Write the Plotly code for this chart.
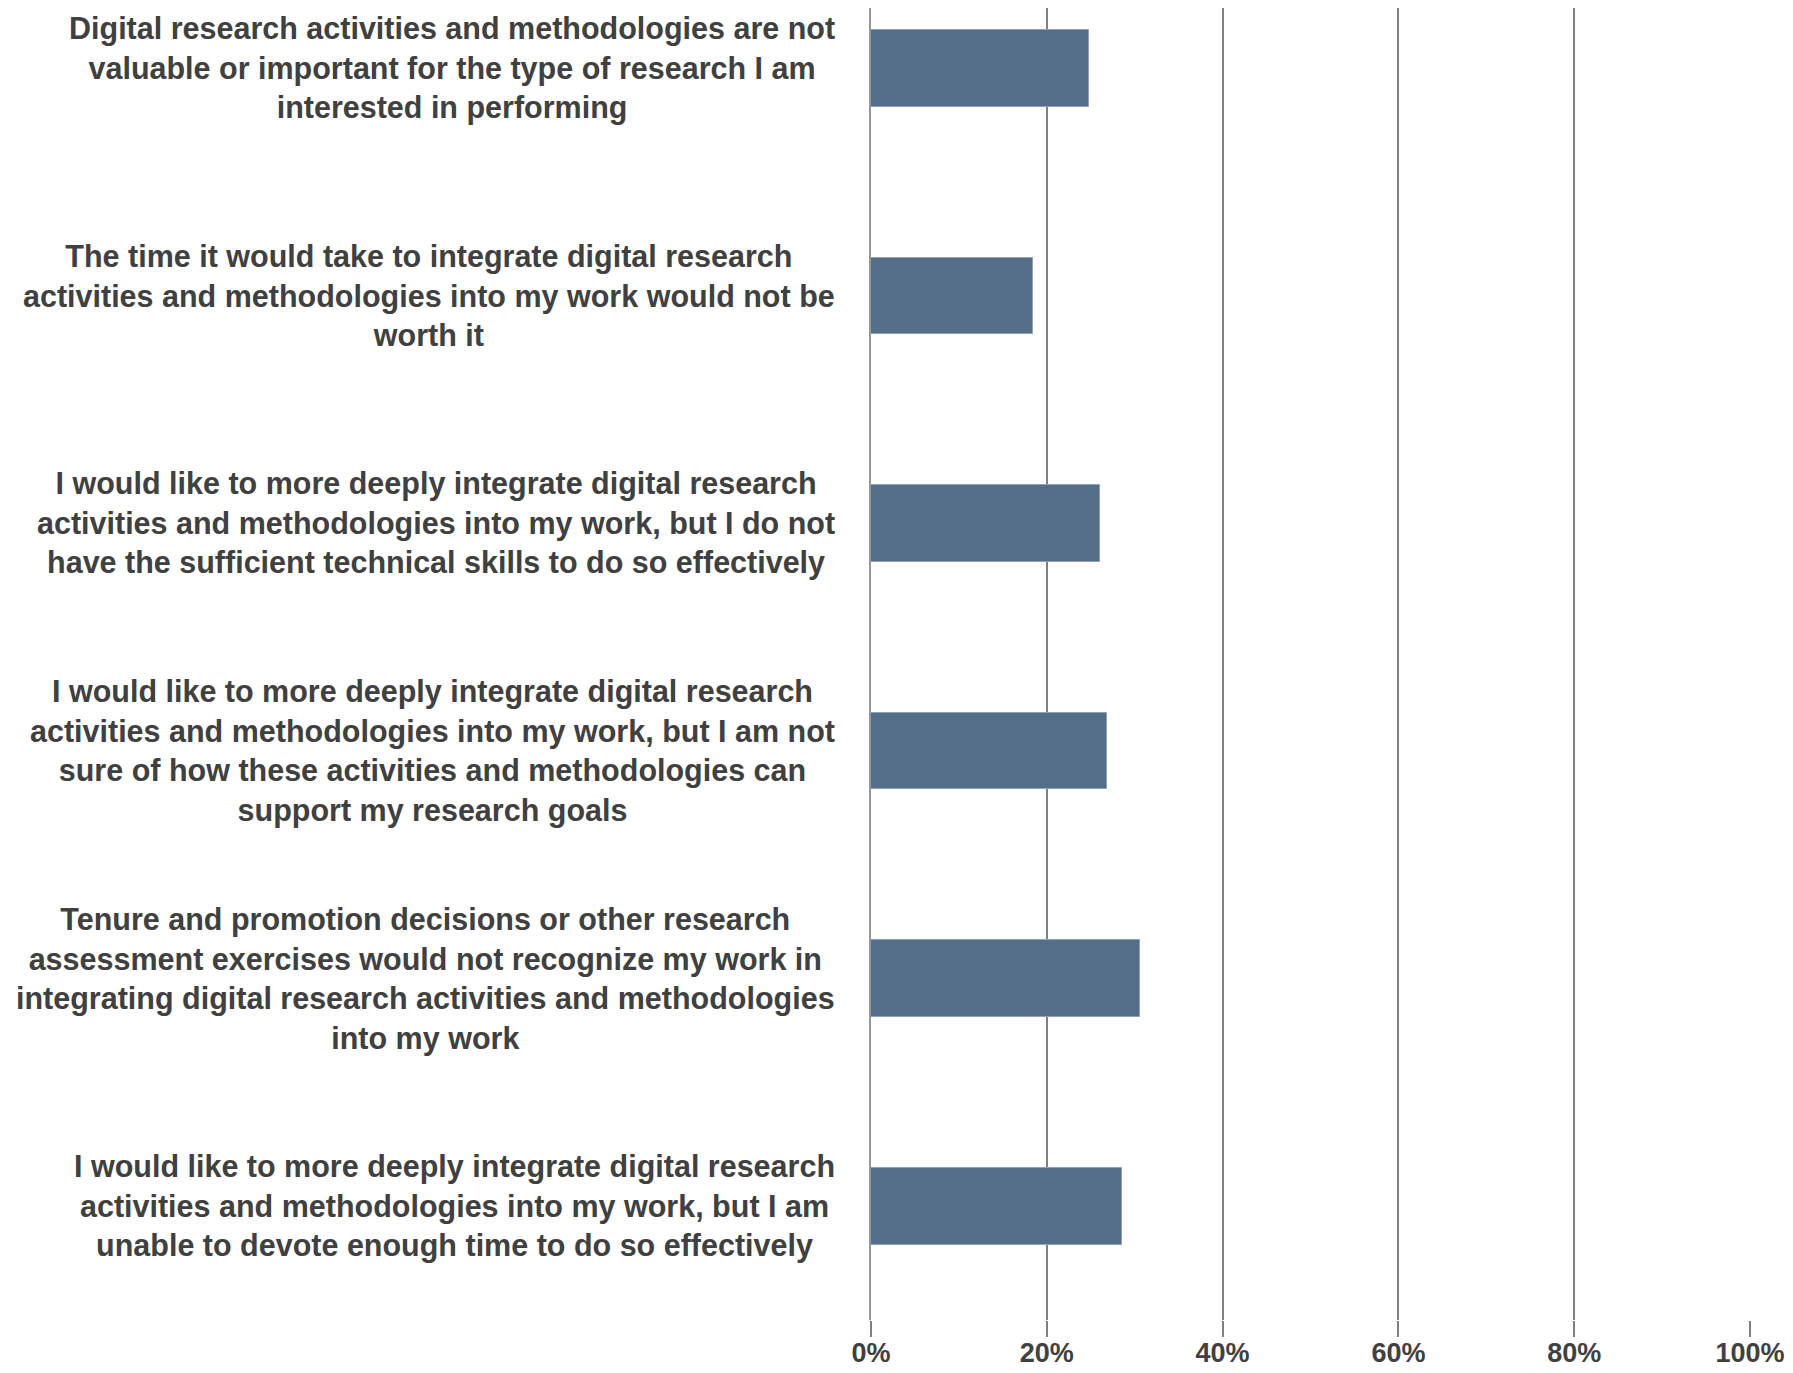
import plotly.graph_objects as go

# Reasons (top to bottom, as in the chart)
reasons = [
    "Digital research activities and methodologies are not<br>valuable or important for the type of research I am<br>interested in performing",
    "The time it would take to integrate digital research<br>activities and methodologies into my work would not be<br>worth it",
    "I would like to more deeply integrate digital research<br>activities and methodologies into my work, but I do not<br>have the sufficient technical skills to do so effectively",
    "I would like to more deeply integrate digital research<br>activities and methodologies into my work, but I am not<br>sure of how these activities and methodologies can<br>support my research goals",
    "Tenure and promotion decisions or other research<br>assessment exercises would not recognize my work in<br>integrating digital research activities and methodologies<br>into my work",
    "I would like to more deeply integrate digital research<br>activities and methodologies into my work, but I am<br>unable to devote enough time to do so effectively",
]
shares = [0.248, 0.184, 0.261, 0.269, 0.306, 0.285]
tick_vals = [0, 0.2, 0.4, 0.6, 0.8, 1.0]
tick_text = ["0%", "20%", "40%", "60%", "80%", "100%"]

positions = list(range(len(reasons)))

FONT = "Liberation Sans Narrow, Arial Narrow, Liberation Sans, Arial, sans-serif"
TXT = "#404040"

fig = go.Figure(go.Bar(
    x=shares,
    y=positions,
    orientation="h",
    width=0.337,
    marker=dict(color="#546e8a", line=dict(color="#8ea2b7", width=1)),
    hoverinfo="x",
))

# category labels as centred annotations
for p, r in zip(positions, reasons):
    fig.add_annotation(
        x=0, xref="paper", xanchor="right", xshift=-34,
        y=p, yref="y", yanchor="middle",
        text="<b>" + r + "</b>", showarrow=False, align="center",
        font=dict(family=FONT, size=30.5, color=TXT),
    )

# page body has an 8px margin, so the figure is a bit smaller than the window
fig.update_layout(
    width=1785, height=1365,
    margin=dict(l=863, r=43, t=0, b=53, autoexpand=False),
    plot_bgcolor="white", paper_bgcolor="white",
    showlegend=False,
    bargap=0,
)
fig.update_xaxes(
    range=[0, 1], tickvals=tick_vals, ticktext=["<b>" + t + "</b>" for t in tick_text],
    showgrid=True, gridcolor="#808080", gridwidth=2,
    ticks="outside", ticklen=16, tickwidth=2, tickcolor="#808080",
    tickfont=dict(family=FONT, size=27, color=TXT),
    ticklabelstandoff=-7, automargin=False,
    zeroline=False, showline=False,
)
fig.update_yaxes(
    range=[5.5, -0.265], showticklabels=False, showgrid=False, automargin=False,
    zeroline=False, showline=True, linecolor="#969696", linewidth=2,
)

fig.write_html("out.html")
